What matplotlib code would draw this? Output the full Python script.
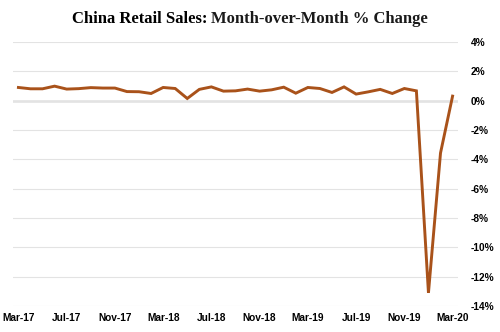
import matplotlib
matplotlib.use("Agg")
import matplotlib.pyplot as plt
import numpy as np

months = ["Mar-17","Apr-17","May-17","Jun-17","Jul-17","Aug-17","Sep-17","Oct-17","Nov-17","Dec-17",
          "Jan-18","Feb-18","Mar-18","Apr-18","May-18","Jun-18","Jul-18","Aug-18","Sep-18","Oct-18",
          "Nov-18","Dec-18","Jan-19","Feb-19","Mar-19","Apr-19","May-19","Jun-19","Jul-19","Aug-19",
          "Sep-19","Oct-19","Nov-19","Dec-19","Jan-20","Feb-20","Mar-20"]
mom_change = [0.91, 0.82, 0.82, 1.00, 0.80, 0.83, 0.90, 0.87, 0.87, 0.63,
              0.62, 0.50, 0.91, 0.84, 0.16, 0.78, 0.95, 0.66, 0.68, 0.80,
              0.66, 0.75, 0.93, 0.52, 0.91, 0.84, 0.57, 0.95, 0.46, 0.61,
              0.78, 0.50, 0.84, 0.68, -13.1, -3.56, 0.32]
y_ticks = [4, 2, 0, -2, -4, -6, -8, -10, -12, -14]
x_tick_labels = ["Mar-17","Jul-17","Nov-17","Mar-18","Jul-18","Nov-18","Mar-19","Jul-19","Nov-19","Mar-20"]

fig = plt.figure(figsize=(5, 3.32), dpi=100)
ax = fig.add_axes([0.026, 0.078, 0.89, 0.795])

x = np.arange(len(months))
ax.plot(x, mom_change, color="#A9521A", lw=2.1, solid_joinstyle="miter", zorder=3)

ax.set_ylim(-14, 4)
ax.set_xlim(-0.45, len(months) - 0.55)
ax.set_yticks(y_ticks)
ax.set_yticklabels([f"{v}%" for v in y_ticks])
ax.yaxis.tick_right()
for lbl in ax.get_yticklabels():
    lbl.set_horizontalalignment("left")
ax.tick_params(axis="y", length=0, pad=9, labelsize=7.3)
ax.grid(axis="y", color="#E3E3E3", lw=0.8, zorder=0)
ax.axhline(0, color="#8C8C8C", lw=1.0, zorder=1)

tick_pos = [months.index(m) for m in x_tick_labels]
ax.set_xticks(tick_pos)
ax.set_xticklabels(x_tick_labels)
ax.tick_params(axis="x", length=0, pad=5, labelsize=7.3)
for lbl in ax.get_xticklabels() + ax.get_yticklabels():
    lbl.set_fontweight("bold")
    lbl.set_family("Liberation Sans")

for s in ax.spines.values():
    s.set_visible(False)

# Title in two weights
fig.canvas.draw()
r = fig.canvas.get_renderer()
t1 = fig.text(0, 0.943, "China Retail Sales: ", fontsize=12, fontweight="heavy",
              family="Liberation Serif", va="center", ha="left")
t2 = fig.text(0, 0.943, "Month-over-Month % Change", fontsize=12, fontweight="bold",
              family="Liberation Serif", va="center", ha="left", color="#1a1a1a")
w1 = t1.get_window_extent(r).width
w2 = t2.get_window_extent(r).width
W = fig.bbox.width
start = (W - (w1 + w2)) / 2
t1.set_x(start / W)
t2.set_x((start + w1) / W)

fig.savefig("out.png", dpi=100)
